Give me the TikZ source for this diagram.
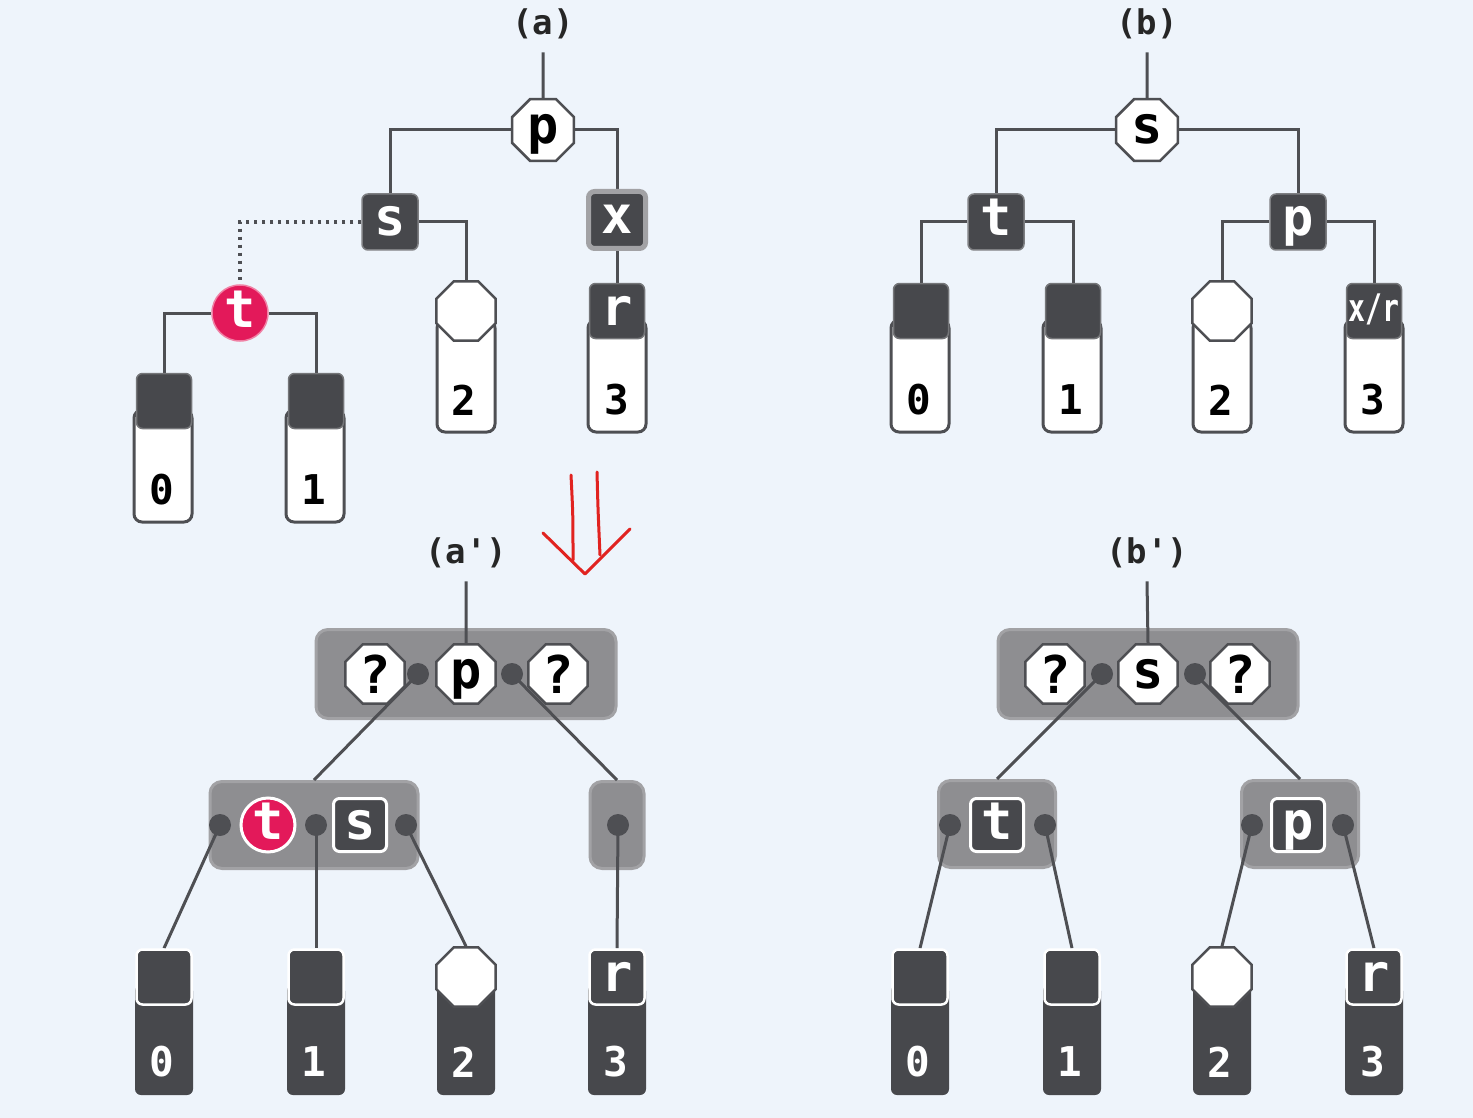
\documentclass[tikz,border=0pt]{standalone}
\usepackage{fontspec}
\newfontfamily\monof[Ligatures=TeXOff]{DejaVu Sans Mono}
\usetikzlibrary{shapes.geometric}
\definecolor{bgc}{HTML}{EEF4FB}
\definecolor{darkc}{HTML}{47484C}
\definecolor{edgec}{HTML}{4E4F53}
\definecolor{greyc}{HTML}{8E8E91}
\definecolor{greyedge}{HTML}{A2A2A5}
\definecolor{redc}{HTML}{E3195A}
\definecolor{arrowc}{HTML}{E12320}
\pgfdeclarelayer{bglayer}
\pgfdeclarelayer{edgelayer}
\pgfsetlayers{bglayer,edgelayer,main}
\newcommand\nfont{\monof\bfseries\fontsize{52}{52}\selectfont}
\newcommand\dfont{\monof\bfseries\fontsize{41}{41}\selectfont}
\newcommand\tfont{\monof\bfseries\fontsize{34}{34}\selectfont}
\newcommand\xrfont{\monof\bfseries\fontsize{38}{38}\selectfont}
\tikzset{
  conn/.style={draw=edgec, line width=3pt},
  dotconn/.style={draw=edgec, line width=3.5pt, dash pattern=on 3.5pt off 4.5pt},
  xh/.style={text height=28pt, text depth=0pt},
  oct/.style={regular polygon, regular polygon sides=8, minimum size=67pt, inner sep=0pt,
    fill=white, draw=edgec, line width=2.5pt, font=\nfont, text=black},
  dsq/.style={rectangle, rounded corners=6pt, minimum size=56pt, inner sep=0pt,
    fill=darkc, text=white, font=\nfont},
  dsqw/.style={dsq, draw=white, line width=3pt, minimum size=53pt},
  redn/.style={circle, minimum size=56pt, inner sep=0pt, fill=redc, text=white, font=\nfont},
  tubew/.style={rectangle, rounded corners=8pt, minimum width=58pt, minimum height=112pt,
    fill=white, draw=edgec, line width=3pt, inner sep=0pt},
  tubed/.style={rectangle, rounded corners=6pt, minimum width=58pt, minimum height=110pt,
    fill=darkc, inner sep=0pt},
  leafsq/.style={dsq, draw=darkc!75!white, line width=1.5pt, minimum size=55pt},
  leafsqw/.style={dsq, draw=white, line width=2.5pt, minimum size=55pt},
  leafoct/.style={oct, minimum size=64pt},
  digb/.style={font=\dfont, text=black, inner sep=0pt},
  digw/.style={font=\dfont, text=white, inner sep=0pt},
  gbox/.style={rectangle, rounded corners=12pt, fill=greyc, draw=greyedge, line width=3pt, inner sep=0pt},
  jdot/.style={circle, fill=edgec, minimum size=22pt, inner sep=0pt},
  captxt/.style={font=\tfont, text=black!85, inner sep=0pt},
  redarrow/.style={draw=arrowc, line width=3pt, line cap=round, line join=round}
}
\begin{document}
\begin{tikzpicture}[x=1pt,y=-1pt]
\useasboundingbox (0,0) rectangle (1473,1118);
\begin{pgfonlayer}{bglayer}
\fill[bgc] (0,0) rectangle (1473,1118);
\end{pgfonlayer}

%% ---------------- (a) ----------------
\node[captxt] (la) at (543,24) {(a)};
\node[oct, xh] (ap) at (543,130) {p};
\node[dsq, xh, draw=darkc!70!white, line width=1.5pt] (as) at (390,222) {s};
\node[dsq, xh, draw=greyedge, line width=5pt, minimum size=57pt] (ax) at (617,220) {x};
\node[redn, xh, draw=redc!55!white, line width=1.5pt] (at) at (240,313) {t};
% leaves
\node[tubew] (a0t) at (163,466) {};
\node[leafsq] (a0s) at (164,401) {};
\node[digb] (a0d) at (162,490) {0};
\node[tubew] (a1t) at (315,466) {};
\node[leafsq] (a1s) at (316,401) {};
\node[digb] (a1d) at (314,490) {1};
\node[tubew] (a2t) at (466,376) {};
\node[leafoct] (a2s) at (466,311) {};
\node[digb] (a2d) at (464,400) {2};
\node[tubew] (a3t) at (617,376) {};
\node[leafsq, xh, text=white, font=\nfont] (a3s) at (617,311) {r};
\node[digb] (a3d) at (617,400) {3};
\begin{pgfonlayer}{edgelayer}
\draw[conn] ([yshift=-13pt]la.south) -- (ap.north);
\draw[conn] (ap.west) -| (as.north);
\draw[conn] (ap.east) -| (ax.north);
\draw[dotconn] (as.west) -| (at.north);
\draw[conn] (as.east) -| (a2s.north);
\draw[conn] (ax.south) -- (a3s.north);
\draw[conn] (at.west) -| (a0s.north);
\draw[conn] (at.east) -| (a1s.north);
\end{pgfonlayer}

%% ---------------- (b) ----------------
\node[captxt] (lb) at (1147,24) {(b)};
\node[oct, xh] (bs) at (1147,130) {s};
\node[dsq, xh, draw=darkc!70!white, line width=1.5pt] (bt) at (996,222) {t};
\node[dsq, xh, draw=darkc!70!white, line width=1.5pt] (bp) at (1298,222) {p};
\node[tubew] (b0t) at (920,376) {};
\node[leafsq] (b0s) at (921,311) {};
\node[digb] (b0d) at (919,400) {0};
\node[tubew] (b1t) at (1072,376) {};
\node[leafsq] (b1s) at (1073,311) {};
\node[digb] (b1d) at (1071,400) {1};
\node[tubew] (b2t) at (1222,376) {};
\node[leafoct] (b2s) at (1222,311) {};
\node[digb] (b2d) at (1221,400) {2};
\node[tubew] (b3t) at (1374,376) {};
\node[leafsq, text=white, font=\xrfont, text height=21pt, text depth=0pt] (b3s) at (1374,311) {\scalebox{0.74}[1]{x/r}};
\node[digb] (b3d) at (1373,400) {3};
\begin{pgfonlayer}{edgelayer}
\draw[conn] ([yshift=-13pt]lb.south) -- (bs.north);
\draw[conn] (bs.west) -| (bt.north);
\draw[conn] (bs.east) -| (bp.north);
\draw[conn] (bt.west) -| (b0s.north);
\draw[conn] (bt.east) -| (b1s.north);
\draw[conn] (bp.west) -| (b2s.north);
\draw[conn] (bp.east) -| (b3s.north);
\end{pgfonlayer}

%% ---------------- red arrow ----------------
\draw[redarrow] (571,475) .. controls (573,515) .. (573,560);
\draw[redarrow] (597,472) .. controls (598,510) .. (600,555);
\draw[redarrow] (543,533) -- (585,574) -- (630,529);

%% ---------------- (a') ----------------
\node[captxt] (laa) at (466,553) {(a\char"27)};
\begin{pgfonlayer}{bglayer}
\node[gbox, minimum width=300pt, minimum height=89pt] (A1) at (466,674) {};
\node[gbox, minimum width=208pt, minimum height=87pt] (A2) at (314,825) {};
\node[gbox, minimum width=54pt, minimum height=87pt] (A3) at (617,825) {};
\end{pgfonlayer}
\node[jdot] (ad1) at (418,674) {};
\node[jdot] (ad2) at (512,674) {};
\node[oct, minimum size=64pt] (aq1) at (375,674) {?};
\node[oct, xh, minimum size=64pt] (ap2) at (466,674) {p};
\node[oct, minimum size=64pt] (aq2) at (558,674) {?};
\node[jdot] (ad3) at (220,825) {};
\node[jdot] (ad4) at (316,825) {};
\node[jdot] (ad5) at (406,825) {};
\node[redn, xh, draw=white, line width=3pt, minimum size=54pt] (at2) at (268,825) {t};
\node[dsqw, xh] (as2) at (360,825) {s};
\node[jdot] (ad6) at (618,825) {};
% leaves
\node[tubed] (c0t) at (164,1040) {};
\node[leafsqw] (c0s) at (164,977) {};
\node[digw] (c0d) at (162,1062) {0};
\node[tubed] (c1t) at (316,1040) {};
\node[leafsqw] (c1s) at (316,977) {};
\node[digw] (c1d) at (314,1062) {1};
\node[tubed] (c2t) at (466,1040) {};
\node[leafoct] (c2s) at (466,977) {};
\node[digw] (c2d) at (464,1062) {2};
\node[tubed] (c3t) at (617,1040) {};
\node[leafsqw, xh, text=white, font=\nfont] (c3s) at (617,977) {r};
\node[digw] (c3d) at (616,1062) {3};
\begin{pgfonlayer}{edgelayer}
\draw[conn] ([yshift=-13pt]laa.south) -- (ap2.north);
\draw[conn] (ad1.center) -- (A2.north);
\draw[conn] (ad2.center) -- (A3.north);
\draw[conn] (ad3.center) -- (c0s.north);
\draw[conn] (ad4.center) -- (c1s.north);
\draw[conn] (ad5.center) -- (c2s.north);
\draw[conn] (ad6.center) -- (c3s.north);
\end{pgfonlayer}

%% ---------------- (b') ----------------
\node[captxt] (lbb) at (1147,553) {(b\char"27)};
\begin{pgfonlayer}{bglayer}
\node[gbox, minimum width=300pt, minimum height=89pt] (B1) at (1148,674) {};
\node[gbox, minimum width=117pt, minimum height=87pt] (B2) at (997,824) {};
\node[gbox, minimum width=117pt, minimum height=87pt] (B3) at (1300,824) {};
\end{pgfonlayer}
\node[jdot] (bd1) at (1102,674) {};
\node[jdot] (bd2) at (1195,674) {};
\node[oct, minimum size=64pt] (bq1) at (1055,674) {?};
\node[oct, xh, minimum size=64pt] (bs2) at (1148,674) {s};
\node[oct, minimum size=64pt] (bq2) at (1240,674) {?};
\node[jdot] (bd3) at (950,825) {};
\node[jdot] (bd4) at (1045,825) {};
\node[dsqw, xh] (bt2) at (997,825) {t};
\node[jdot] (bd5) at (1252,825) {};
\node[jdot] (bd6) at (1343,825) {};
\node[dsqw, xh] (bp2) at (1298,825) {p};
% leaves
\node[tubed] (d0t) at (920,1040) {};
\node[leafsqw] (d0s) at (920,977) {};
\node[digw] (d0d) at (918,1062) {0};
\node[tubed] (d1t) at (1072,1040) {};
\node[leafsqw] (d1s) at (1072,977) {};
\node[digw] (d1d) at (1070,1062) {1};
\node[tubed] (d2t) at (1222,1040) {};
\node[leafoct] (d2s) at (1222,977) {};
\node[digw] (d2d) at (1220,1062) {2};
\node[tubed] (d3t) at (1374,1040) {};
\node[leafsqw, xh, text=white, font=\nfont] (d3s) at (1374,977) {r};
\node[digw] (d3d) at (1373,1062) {3};
\begin{pgfonlayer}{edgelayer}
\draw[conn] ([yshift=-13pt]lbb.south) -- (bs2.north);
\draw[conn] (bd1.center) -- (B2.north);
\draw[conn] (bd2.center) -- (B3.north);
\draw[conn] (bd3.center) -- (d0s.north);
\draw[conn] (bd4.center) -- (d1s.north);
\draw[conn] (bd5.center) -- (d2s.north);
\draw[conn] (bd6.center) -- (d3s.north);
\end{pgfonlayer}
\end{tikzpicture}
\end{document}
